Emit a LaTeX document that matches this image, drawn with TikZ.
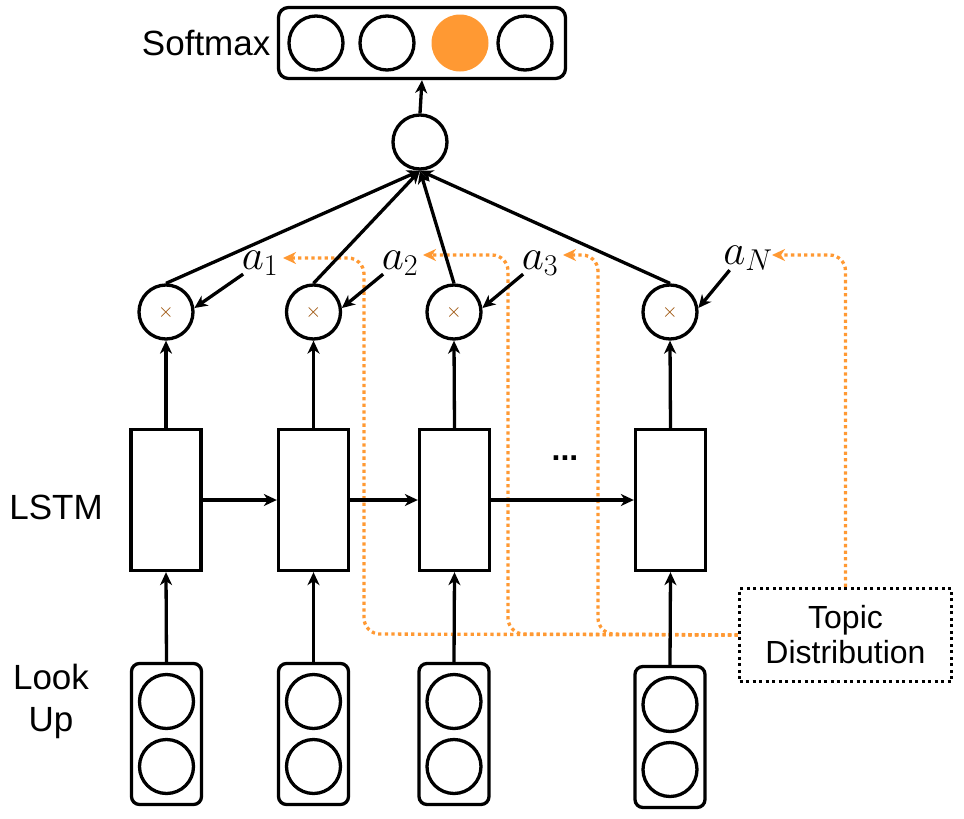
\RequirePackage{fix-cm}
\documentclass[tikz,border=0pt]{standalone}
\usepackage{fontspec}
\setmainfont{Liberation Sans}
\usetikzlibrary{arrows.meta}
\definecolor{org}{RGB}{255,153,51}
\definecolor{brn}{RGB}{153,76,0}
\begin{document}
\begin{tikzpicture}[x=1pt,y=-1pt,
  line width=3.3pt,
  arr/.style={-{Stealth[length=13pt,width=12pt,inset=4pt]}},
  oarr/.style={draw=org, line width=3.3pt, dash pattern=on 3.3pt off 3.3pt, rounded corners=16pt, -{Stealth[length=13pt,width=12pt,inset=4pt]}},
  lstm/.style={draw, minimum width=70pt, minimum height=141pt, inner sep=0pt},
  look/.style={draw, rounded corners=8pt, minimum width=70pt, minimum height=141pt, inner sep=0pt},
  mul/.style={draw, circle, minimum size=54pt, inner sep=0pt, font=\fontsize{20}{20}\selectfont, text=brn},
  cir/.style={draw, circle, minimum size=54pt, inner sep=0pt},
  lbl/.style={font=\fontsize{35}{42}\selectfont, align=center, inner sep=0pt},
  alab/.style={font=\fontsize{43}{50}\selectfont, inner sep=0pt}
]
\useasboundingbox (0,0) rectangle (964,819);

% Softmax
\node[draw, rounded corners=10pt, minimum width=287pt, minimum height=71pt, inner sep=0pt] (smax) at (422,43) {};
\node[cir] (s1) at (316,43) {};
\node[cir] (s2) at (387,43) {};
\node[circle, fill=org, minimum size=57pt, inner sep=0pt] (s3) at (460,43) {};
\node[cir] (s4) at (525,43) {};
\node[lbl, anchor=east] (lsoft) at (272,43) {Softmax};

% top circle
\node[cir] (top) at (420,142) {};

% multiply circles
\node[mul] (m1) at (166,312) {$\times$};
\node[mul] (m2) at (313.5,312) {$\times$};
\node[mul] (m3) at (454,312) {$\times$};
\node[mul] (m4) at (670,312) {$\times$};

% attention labels
\node[alab] (a1) at (260,263) {$a_1$};
\node[alab] (a2) at (400,263) {$a_2$};
\node[alab] (a3) at (540,263) {$a_3$};
\node[alab] (aN) at (748,258) {$a_N$};

% LSTM boxes
\node[lstm] (l1) at (166,500) {};
\node[lstm] (l2) at (313.5,500) {};
\node[lstm] (l3) at (454.5,500) {};
\node[lstm] (l4) at (670.5,500) {};
\node[lbl] (llstm) at (56,507) {LSTM};
\node[font=\fontsize{32}{32}\selectfont\bfseries, inner sep=0pt] (dots) at (565,458) {...};

% Look up boxes
\node[look] (k1) at (166.5,734) {};
\node[look] (k2) at (313.5,734) {};
\node[look] (k3) at (454,734) {};
\node[look] (k4) at (670,737) {};
\foreach \i in {1,2,3,4} {
  \node[cir] (k\i a) at ([yshift=32.5pt]k\i.center) {};
  \node[cir] (k\i b) at ([yshift=-32.5pt]k\i.center) {};
}
\node[lbl] (llook) at (51,701) {Look\\Up};

% Topic distribution
\node[draw, dash pattern=on 3pt off 3.5pt, minimum width=212pt, minimum height=93pt, inner sep=0pt,
      font=\fontsize{32}{35}\selectfont, align=center] (topic) at (845.5,635) {Topic\\Distribution};

% orange dotted connectors
\coordinate (t1) at (283,258);
\coordinate (t2) at (423,255);
\coordinate (t3) at (563,255);
\coordinate (tN) at (772,255);
\draw[oarr] (topic.west) -- (364,634) -- (364,258) -- (t1);
\draw[oarr] (topic.west) -- (508,634) -- (508,255) -- (t2);
\draw[oarr] (topic.west) -- (598,634) -- (598,255) -- (t3);
\draw[oarr] (topic.north) -- (845.5,255) -- (tN);

% black connectors
\draw[arr] (top.north) -- (smax.south);
\foreach \i in {1,2,3,4} {
  \draw[arr] (m\i.north) -- (top.south);
  \draw[arr] (l\i.north) -- (m\i.south);
  \draw[arr] (k\i.north) -- (l\i.south);
}
\draw[arr] ([xshift=3pt,yshift=3pt]a1.south west) -- (m1.8);
\draw[arr] ([xshift=3pt,yshift=3pt]a2.south west) -- (m2.8);
\draw[arr] ([xshift=3pt,yshift=3pt]a3.south west) -- (m3.8);
\draw[arr] ([xshift=8pt,yshift=2pt]aN.south west) -- (m4.8);
\draw[arr] (l1.east) -- (l2.west);
\draw[arr] (l2.east) -- (l3.west);
\draw[arr] (l3.east) -- (l4.west);
\end{tikzpicture}
\end{document}
